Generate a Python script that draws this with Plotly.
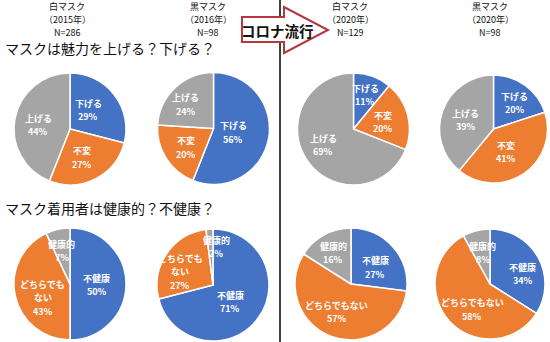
import math
import plotly.graph_objects as go

W, H = 550, 342

# ---------------- data ----------------
mask_names = ["白マスク", "黒マスク", "白マスク", "黒マスク"]
survey_years = ["（2015年）", "（2016年）", "（2020年）", "（2020年）"]
sample_sizes = ["N=286", "N=98", "N=129", "N=98"]

q1_title = "マスクは魅力を上げる？下げる？"
q1_labels = ["下げる", "不変", "上げる"]
q1_values = [
    [29, 27, 44],
    [56, 20, 24],
    [11, 20, 69],
    [20, 41, 39],
]

q2_title = "マスク着用者は健康的？不健康？"
q2_labels = ["不健康", "どちらでもない", "健康的"]
q2_values = [
    [50, 43, 7],
    [71, 27, 2],
    [27, 57, 16],
    [34, 58, 8],
]

arrow_text = "コロナ流行"

# ---------------- style / layout ----------------
colors = ["#4472C4", "#ED7D31", "#A5A5A5"]
FONT = "Noto Sans CJK JP"

# pie centres (px) and radii
q1_centers = [(70, 129), (213.5, 128.5), (353.5, 129), (493.5, 129)]
q1_radii = [56, 56, 56, 54]
q2_centers = [(70, 284), (213, 285), (351, 284), (490, 284)]
q2_radii = [56, 56, 56, 55]

# label placement tweaks: (radial fraction, angle offset in degrees)
q1_label_pos = [
    [(0.47, -9), (0.55, 4), (0.57, -4)],
    [(0.36, 0), (0.60, -2), (0.66, -6)],
    [(0.64, -1), (0.55, 1), (0.61, 6)],
    [(0.62, 3), (0.48, 6), (0.54, -2)],
]
q2_label_pos = [
    [(0.48, 2), (0.54, -14), (0.61, -1)],
    [(0.43, 7), (0.63, -12), (0.68, 8.5)],
    [(0.52, 7), (0.56, 7), (0.64, -1)],
    [(0.62, 12), (0.57, -12), (0.58, 1)],
]
# whether to wrap the long label
q2_wrap = [True, True, False, False]

header_x = [67, 208, 350, 490]
header_y = [6, 19, 32]

LINE_H = 13.5

fig = go.Figure()
annotations = []


def px2paper(x, y):
    return x / W, 1 - y / H


def add_text(x, y, text, size, color="#111111", bold=False, xanchor="center"):
    px, py = px2paper(x, y)
    annotations.append(dict(
        x=px, y=py, xref="paper", yref="paper", text=f"<b>{text}</b>" if bold else text,
        showarrow=False, xanchor=xanchor, yanchor="middle",
        font=dict(family=FONT, size=size, color=color),
    ))


def add_pie(center, r, labels, values, label_pos, wrap=False):
    cx, cy = center
    x0, y1 = px2paper(cx - r, cy - r)
    x1, y0 = px2paper(cx + r, cy + r)
    fig.add_trace(go.Pie(
        labels=labels, values=values, sort=False, direction="clockwise",
        rotation=0, textinfo="none", hoverinfo="label+percent",
        marker=dict(colors=colors, line=dict(color="white", width=1.5)),
        domain=dict(x=[x0, x1], y=[y0, y1]), showlegend=False,
    ))
    total = sum(values)
    cum = 0
    for lab, v, (frac, off) in zip(labels, values, label_pos):
        mid = (cum + v / 2) / total * 360 + off
        cum += v
        d = frac * r
        lx = cx + d * math.sin(math.radians(mid))
        ly = cy - d * math.cos(math.radians(mid))
        if wrap and len(lab) > 5:
            lines = [lab[:5], lab[5:], f"{v}%"]
        else:
            lines = [lab, f"{v}%"]
        n = len(lines)
        for i, t in enumerate(lines):
            yy = ly + (i - (n - 1) / 2) * LINE_H
            add_text(lx, yy, t, 9, color="white", bold=True)


for i in range(4):
    add_pie(q1_centers[i], q1_radii[i], q1_labels, q1_values[i], q1_label_pos[i])
for i in range(4):
    add_pie(q2_centers[i], q2_radii[i], q2_labels, q2_values[i], q2_label_pos[i], q2_wrap[i])

# headers
for i in range(4):
    add_text(header_x[i], header_y[0], mask_names[i], 9)
    add_text(header_x[i], header_y[1], survey_years[i], 9)
    add_text(header_x[i], header_y[2], sample_sizes[i], 9)

# section titles
add_text(3, 48, q1_title, 14, xanchor="left")
add_text(3, 208, q2_title, 14, xanchor="left")

# arrow text
add_text(277, 30, arrow_text, 14.5, color="#111111", bold=True)

# shapes: divider line and arrow
pts = [(242, 17), (284, 17), (284, 7), (328, 30), (284, 53), (284, 42), (242, 42)]
path = "M " + " L ".join(f"{px2paper(x, y)[0]:.5f},{px2paper(x, y)[1]:.5f}" for x, y in pts) + " Z"
shapes = [
    dict(type="line", xref="paper", yref="paper", x0=280 / W, x1=280 / W, y0=0, y1=1,
         line=dict(color="#404040", width=2), layer="above"),
    dict(type="path", xref="paper", yref="paper", path=path, fillcolor="white",
         line=dict(color="#B5383F", width=2), layer="above"),
]

fig.update_layout(
    width=W, height=H, margin=dict(l=0, r=0, t=0, b=0),
    paper_bgcolor="white", plot_bgcolor="white",
    annotations=annotations, shapes=shapes,
    font=dict(family=FONT),
)

fig.write_html("out.html")
